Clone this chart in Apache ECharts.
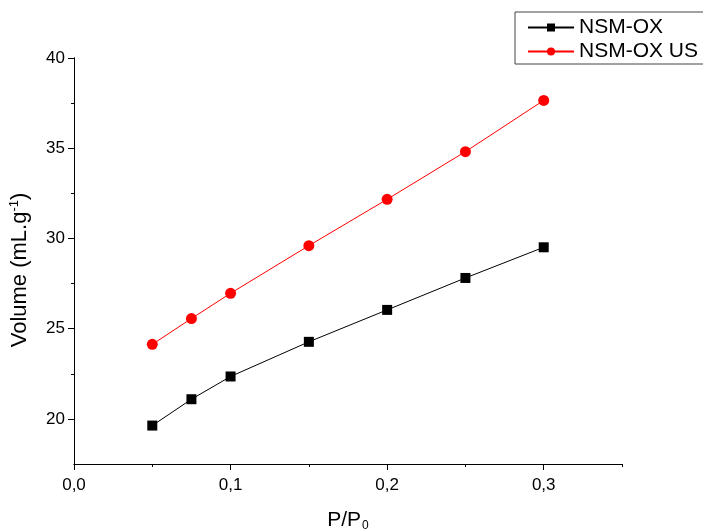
<!DOCTYPE html>
<html>
<head>
<meta charset="UTF-8">
<title>Volume vs P/P0</title>
<script src="https://cdn.jsdelivr.net/npm/echarts@6/dist/echarts.min.js"></script>
<style>
    body { margin: 0; padding: 0; background: #fff; }
    #main { width: 703px; height: 532px; }
</style>
</head>
<body>
<div id="main"></div>
<script type="text/javascript">
    // data
    var pressure = [0.05, 0.075, 0.1, 0.15, 0.2, 0.25, 0.3];
    var volOx = [19.63, 21.09, 22.35, 24.27, 26.04, 27.81, 29.51];
    var volOxUs = [24.13, 25.56, 26.96, 29.6, 32.17, 34.81, 37.65];
    var xTicks = [0, 0.1, 0.2, 0.3];
    var xMinor = [0.05, 0.15, 0.25, 0.35];
    var yTicks = [20, 25, 30, 35, 40];
    var yMinor = [22.5, 27.5, 32.5, 37.5];

    function pairs(xs, ys) {
        var out = [];
        for (var i = 0; i < xs.length; i++) {
            out.push([xs[i], ys[i]]);
        }
        return out;
    }

    var font = 'Liberation Sans, Arial, sans-serif';
    var axisBase = {
        type: 'value',
        axisLine: { show: true, lineStyle: { color: '#000', width: 1 } },
        splitLine: { show: false }
    };

    var myChart = echarts.init(document.getElementById('main'));
    var option = {
        backgroundColor: '#fff',
        animation: false,
        grid: { left: 74, top: 58, right: 81, bottom: 68, outerBoundsMode: 'none', containLabel: false },
        legend: {
            orient: 'vertical',
            left: 515,
            top: 12,
            padding: [5, 30, 2, 12],
            itemGap: 3,
            itemWidth: 46,
            itemHeight: 10,
            borderColor: '#444',
            borderWidth: 1,
            textStyle: { fontFamily: font, fontSize: 21, color: '#000' },
            data: ['NSM-OX', 'NSM-OX US']
        },
        xAxis: [
            Object.assign({}, axisBase, {
                min: 0, max: 0.35,
                name: 'P/P{sub|0}',
                nameLocation: 'middle',
                nameGap: 44,
                nameTextStyle: {
                    fontFamily: font, fontSize: 21, color: '#000',
                    rich: { sub: { fontFamily: font, fontSize: 12, color: '#000', padding: [12, 0, 0, 1] } }
                },
                axisTick: { show: true, length: 6, customValues: xTicks, lineStyle: { color: '#000' } },
                axisLabel: {
                    customValues: xTicks, margin: 13,
                    fontFamily: font, fontSize: 17, color: '#000',
                    formatter: function (v) { return v.toFixed(1).replace('.', ','); }
                }
            }),
            Object.assign({}, axisBase, {
                min: 0, max: 0.35, position: 'bottom',
                axisTick: { show: true, length: 3, customValues: xMinor, lineStyle: { color: '#000' } },
                axisLabel: { show: false }
            })
        ],
        yAxis: [
            Object.assign({}, axisBase, {
                min: 17.5, max: 40,
                name: 'Volume (mL.g{sup|-1})',
                nameLocation: 'middle',
                nameGap: 42,
                nameTextStyle: {
                    fontFamily: font, fontSize: 22, color: '#000',
                    padding: [0, 18, 0, 0],
                    rich: { sup: { fontFamily: font, fontSize: 13, color: '#000', padding: [0, 0, 11, 0] } }
                },
                axisTick: { show: true, length: 6, customValues: yTicks, lineStyle: { color: '#000' } },
                axisLabel: {
                    customValues: yTicks, margin: 9,
                    fontFamily: font, fontSize: 17, color: '#000'
                }
            }),
            Object.assign({}, axisBase, {
                min: 17.5, max: 40, position: 'left',
                axisTick: { show: true, length: 3, customValues: yMinor, lineStyle: { color: '#000' } },
                axisLabel: { show: false }
            })
        ],
        series: [
            {
                name: 'NSM-OX',
                type: 'line',
                data: pairs(pressure, volOx),
                symbol: 'rect',
                symbolSize: 10,
                itemStyle: { color: '#000' },
                lineStyle: { color: '#000', width: 1 }
            },
            {
                name: 'NSM-OX US',
                type: 'line',
                data: pairs(pressure, volOxUs),
                symbol: 'circle',
                symbolSize: 11,
                itemStyle: { color: '#ff0000' },
                lineStyle: { color: '#ff0000', width: 1 }
            }
        ]
    };
    myChart.setOption(option);
</script>
</body>
</html>
